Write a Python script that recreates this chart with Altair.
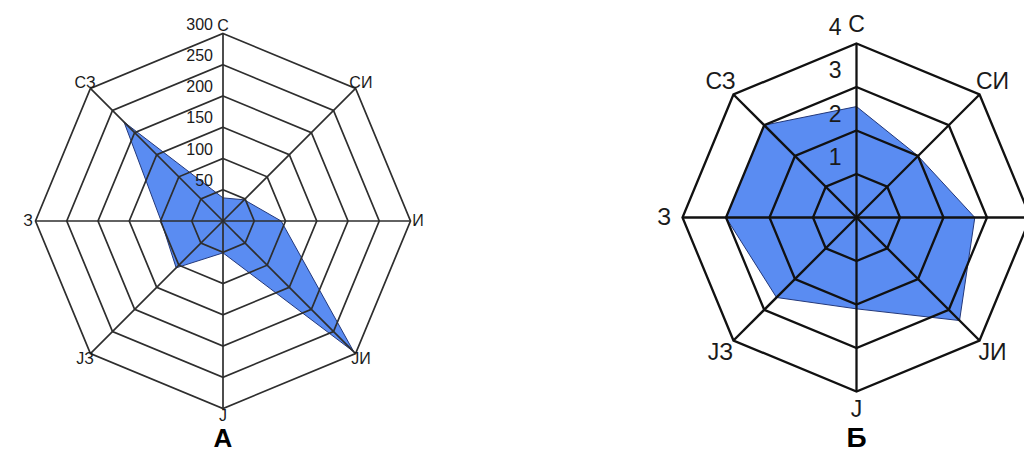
import altair as alt
import pandas as pd

directions = ["С", "СИ", "И", "ЈИ", "Ј", "ЈЗ", "З", "СЗ"]
values_a = [37, 48, 93, 296, 51, 106, 99, 224]
values_b = [2.55, 2.0, 2.72, 3.35, 2.1, 2.6, 3.0, 3.0]
ticks_a = [50, 100, 150, 200, 250, 300]
ticks_b = [1, 2, 3, 4]

FONT = "Liberation Sans"


def radar(values, ticks, title, k, width, height, cx, cy, label_r, fs_dir, fs_tick,
          tick_dx, tick_dy, grid_color, grid_w, fs_title):
    rmax = ticks[-1]
    n = len(directions)
    poly = pd.DataFrame({"dir": directions, "idx": list(range(n)), "r": values})
    rings = pd.DataFrame([{"ring": t, "idx": i, "r": t} for t in ticks for i in range(n)])
    spokes = pd.DataFrame({"dir": directions, "idx": list(range(n)), "r": [rmax] * n})
    labels = pd.DataFrame({"dir": directions, "idx": list(range(n)), "r": [label_r] * n})
    tick_df = pd.DataFrame({"t": [str(t) for t in ticks], "r": ticks})
    ymin = -(height - cy) / k
    xmax = (width - cx) / k
    title_df = pd.DataFrame({"t": [title], "r": [ymin]})

    xs = alt.Scale(domain=[-cx / k, xmax], nice=False, zero=False)
    ys = alt.Scale(domain=[ymin, cy / k], nice=False, zero=False)
    X = alt.X("x:Q", scale=xs, axis=None)
    Y = alt.Y("y:Q", scale=ys, axis=None)
    X0 = alt.X("x0:Q", scale=xs, axis=None)

    def polar(ch):
        return ch.transform_calculate(
            a="datum.idx * PI / 4",
        ).transform_calculate(
            x="datum.r * sin(datum.a)",
            y="datum.r * cos(datum.a)",
            x0="0",
            y0="0",
        )

    poly_l = polar(alt.Chart(poly)).mark_line(
        interpolate="linear-closed", fill="#5a8cf2", fillOpacity=1,
        stroke="#23387a", strokeWidth=1, clip=True,
    ).encode(x=X, y=Y, order="idx:Q")

    ring_l = polar(alt.Chart(rings)).mark_line(
        interpolate="linear-closed", stroke=grid_color, strokeWidth=grid_w, clip=True,
    ).encode(x=X, y=Y, detail="ring:N", order="idx:Q")

    spoke_l = polar(alt.Chart(spokes)).mark_rule(
        stroke=grid_color, strokeWidth=grid_w, clip=True,
    ).encode(x=X0, y=alt.Y("y0:Q", scale=ys, axis=None), x2="x:Q", y2="y:Q")

    # direction labels that would fall outside the panel (cut off in the reference) are left out
    label_l = polar(alt.Chart(labels)).transform_filter(
        f"datum.x < {xmax * 0.95}"
    ).mark_text(
        align="center", baseline="middle", font=FONT, fontSize=fs_dir,
        color="#1a1a1a", clip=True,
    ).encode(x=X, y=Y, text="dir:N")

    tick_l = alt.Chart(tick_df).transform_calculate(x0="0").mark_text(
        align="right", baseline="bottom", dx=tick_dx, dy=tick_dy,
        font=FONT, fontSize=fs_tick, color="#1a1a1a", clip=True,
    ).encode(x=X0, y=alt.Y("r:Q", scale=ys, axis=None), text="t:N")

    title_l = alt.Chart(title_df).transform_calculate(x0="0").mark_text(
        align="center", baseline="alphabetic", font=FONT, fontSize=fs_title,
        fontWeight="bold", color="black", clip=True,
    ).encode(x=X0, y=alt.Y("r:Q", scale=ys, axis=None), text="t:N")

    return alt.layer(poly_l, ring_l, spoke_l, label_l, tick_l, title_l).properties(
        width=width, height=height,
    )


chart_a = radar(values_a, ticks_a, "А", 0.625, 430, 439, 215, 213, 312, 16, 16,
                -10, -1, "#2e2e2e", 1.7, 26)
chart_b = radar(values_b, ticks_b, "Б", 43.5, 586, 439, 418.5, 209.5, 4.42, 23, 23,
                -15, -4, "#111111", 2.3, 28)

chart = alt.hconcat(chart_a, chart_b, spacing=0).properties(
    padding=0
).configure_view(stroke=None)

chart.save("out.html", embed_options={"renderer": "svg", "actions": False})
